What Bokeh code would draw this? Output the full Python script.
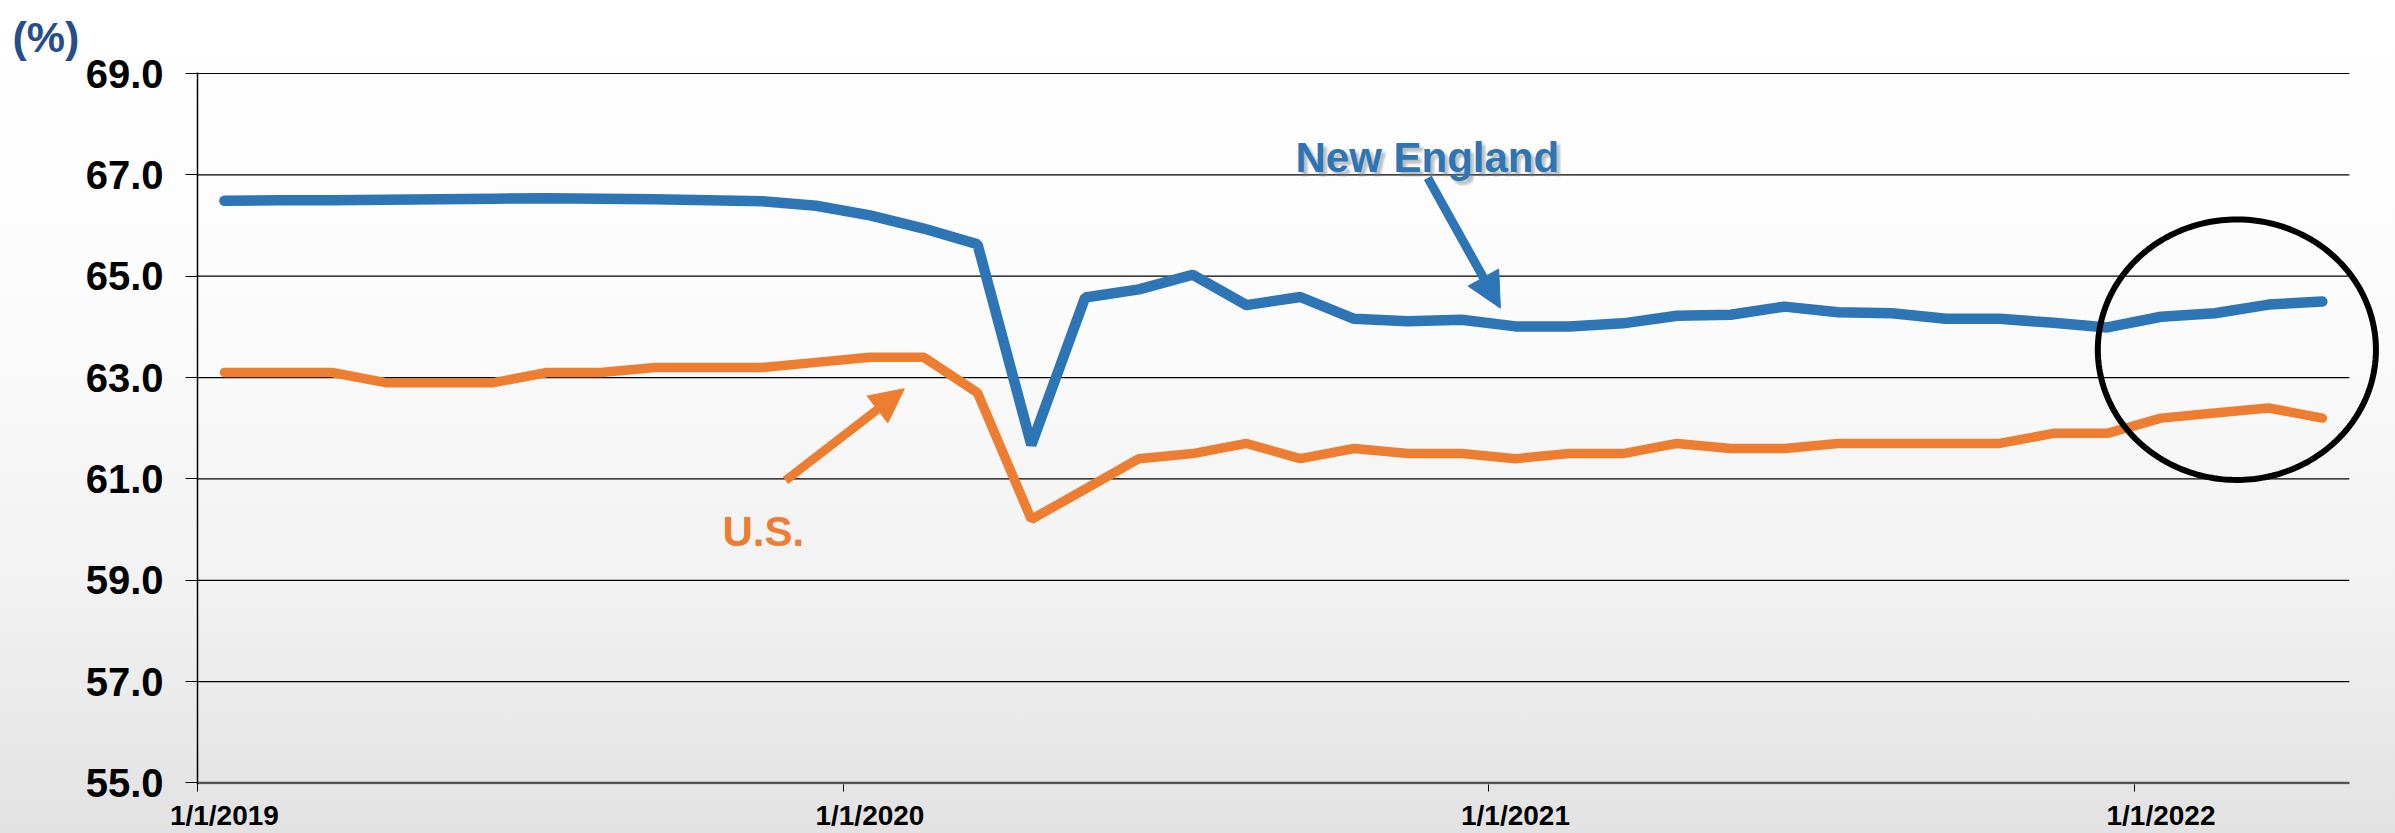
import numpy as np
from bokeh.plotting import figure
from bokeh.models import (Range1d, FixedTicker, PrintfTickFormatter, Label, Arrow,
                          NormalHead, PolyAnnotation, Title)
from bokeh.embed import file_html
from bokeh.resources import INLINE

# ---------------- data (monthly, Jan 2019 - Apr 2022) ----------------
months = ["2019-01", "2019-02", "2019-03", "2019-04", "2019-05", "2019-06",
          "2019-07", "2019-08", "2019-09", "2019-10", "2019-11", "2019-12",
          "2020-01", "2020-02", "2020-03", "2020-04", "2020-05", "2020-06",
          "2020-07", "2020-08", "2020-09", "2020-10", "2020-11", "2020-12",
          "2021-01", "2021-02", "2021-03", "2021-04", "2021-05", "2021-06",
          "2021-07", "2021-08", "2021-09", "2021-10", "2021-11", "2021-12",
          "2022-01", "2022-02", "2022-03", "2022-04"]

new_england = [66.49, 66.50, 66.50, 66.51, 66.52, 66.53, 66.54, 66.53, 66.52, 66.50,
               66.48, 66.39, 66.20, 65.94, 65.63, 61.67, 64.58, 64.74, 65.03, 64.43,
               64.59, 64.16, 64.11, 64.14, 64.01, 64.01, 64.07, 64.22, 64.24, 64.40,
               64.29, 64.27, 64.16, 64.16, 64.08, 63.99, 64.20, 64.27, 64.44, 64.50]

us = [63.1, 63.1, 63.1, 62.9, 62.9, 62.9, 63.1, 63.1, 63.2, 63.2,
      63.2, 63.3, 63.4, 63.4, 62.7, 60.2, 60.8, 61.4, 61.5, 61.7,
      61.4, 61.6, 61.5, 61.5, 61.4, 61.5, 61.5, 61.7, 61.6, 61.6,
      61.7, 61.7, 61.7, 61.7, 61.9, 61.9, 62.2, 62.3, 62.4, 62.2]

x_tick_labels = ["1/1/2019", "1/1/2020", "1/1/2021", "1/1/2022"]
y_ticks = [55.0, 57.0, 59.0, 61.0, 63.0, 65.0, 67.0, 69.0]

# month slots: each month occupies one unit, points in the middle of the slot
n = len(months)
x = [i + 0.5 for i in range(n)]
year_starts = [12 * k for k in range(len(x_tick_labels))]
label_pos = [s + 0.5 for s in year_starts]

BLUE = "#2E75B6"
ORANGE = "#ED7D31"
FONT = "Liberation Sans"

p = figure(width=2395, height=833, output_backend="svg", toolbar_location=None,
           x_range=Range1d(0, n + 0.71), y_range=Range1d(54.97, 69.02),
           min_border_left=197, min_border_right=8, min_border_top=72,
           min_border_bottom=40)

p.background_fill_color = None
p.border_fill_color = None
p.outline_line_color = None
p.styles = {"background": "linear-gradient(to bottom, #ffffff 0%, #fcfcfc 35%, #f2f2f2 70%, #e2e2e2 100%)"}

# title used as the "(%)" unit label at the top-left
p.title = Title(text="(%)", align="left", offset=-185, standoff=20, vertical_align="top",
                text_font=FONT, text_font_style="bold", text_font_size="43px",
                text_color="#254E8A")

# axes
p.yaxis.ticker = FixedTicker(ticks=y_ticks)
p.yaxis.formatter = PrintfTickFormatter(format="%.1f")
p.yaxis.major_label_text_font = FONT
p.yaxis.major_label_text_font_style = "bold"
p.yaxis.major_label_text_font_size = "40px"
p.yaxis.major_label_text_color = "black"
p.yaxis.major_tick_out = 12
p.yaxis.major_tick_in = 0
p.yaxis.minor_tick_line_color = None
p.yaxis.major_tick_line_color = "black"
p.yaxis.axis_line_color = "black"
p.yaxis.axis_line_width = 1.5
p.yaxis.major_label_standoff = 22

p.xaxis.ticker = FixedTicker(ticks=label_pos, minor_ticks=year_starts)
p.xaxis.major_label_overrides = {pos: lab for pos, lab in zip(label_pos, x_tick_labels)}
p.xaxis.major_label_text_font = FONT
p.xaxis.major_label_text_font_style = "bold"
p.xaxis.major_label_text_font_size = "28px"
p.xaxis.major_label_text_color = "black"
p.xaxis.major_tick_out = 0
p.xaxis.major_tick_in = 0
p.xaxis.minor_tick_out = 7
p.xaxis.minor_tick_in = 0
p.xaxis.minor_tick_line_color = "black"
p.xaxis.axis_line_color = None
p.xaxis.major_label_standoff = 8

p.xgrid.visible = False
p.ygrid.visible = False

# horizontal gridlines spanning only the data months (0 .. n)
p.segment(x0=[0] * len(y_ticks), y0=y_ticks, x1=[n] * len(y_ticks), y1=y_ticks,
          line_color="black", line_width=1.2)
# category-axis base line
p.segment(x0=[0], y0=[y_ticks[0]], x1=[n], y1=[y_ticks[0]],
          line_color="#555555", line_width=2.5)

# series
p.line(x, new_england, line_color=BLUE, line_width=10.5, line_cap="round")
p.line(x, us, line_color=ORANGE, line_width=9.5, line_cap="round")

# annotations: texts with soft shadow for New England
def shadowed(text, xx, yy, color, size):
    for dx, dy in [(2, -2), (4, -4), (3, -5), (5, -3), (4, -2), (2, -4), (5, -5)]:
        p.add_layout(Label(x=xx, y=yy, text=text, x_offset=dx, y_offset=dy,
                           text_font=FONT, text_font_style="bold", text_font_size=size,
                           text_color="#7f7f7f", text_alpha=0.09,
                           text_baseline="alphabetic"))
    p.add_layout(Label(x=xx, y=yy, text=text, text_font=FONT, text_font_style="bold",
                       text_font_size=size, text_color=color, text_baseline="alphabetic"))

shadowed("New England", 20.41, 67.35, BLUE, "42px")
p.add_layout(Label(x=9.76, y=59.97, text="U.S.", text_font=FONT, text_font_style="bold",
                   text_font_size="42px", text_color=ORANGE, text_baseline="alphabetic"))

# arrows
p.add_layout(Arrow(x_start=10.93, y_start=60.97, x_end=13.14, y_end=62.78,
                   line_color=ORANGE, line_width=9,
                   end=NormalHead(size=34, fill_color=ORANGE, line_color=ORANGE, line_width=1)))
p.add_layout(Arrow(x_start=22.87, y_start=66.94, x_end=24.22, y_end=64.37,
                   line_color=BLUE, line_width=9,
                   end=NormalHead(size=35, fill_color=BLUE, line_color=BLUE, line_width=1)))

# highlight ellipse around the latest months
t = np.linspace(0, 2 * np.pi, 240)
cx, cy, ax_, ay_ = 37.91, 63.55, 2.585, 2.57
p.add_layout(PolyAnnotation(xs=list(cx + ax_ * np.cos(t)), ys=list(cy + ay_ * np.sin(t)),
                            fill_alpha=0, line_color="black", line_alpha=1.0, line_width=6))

open("out.html", "w").write(file_html(p, INLINE))
